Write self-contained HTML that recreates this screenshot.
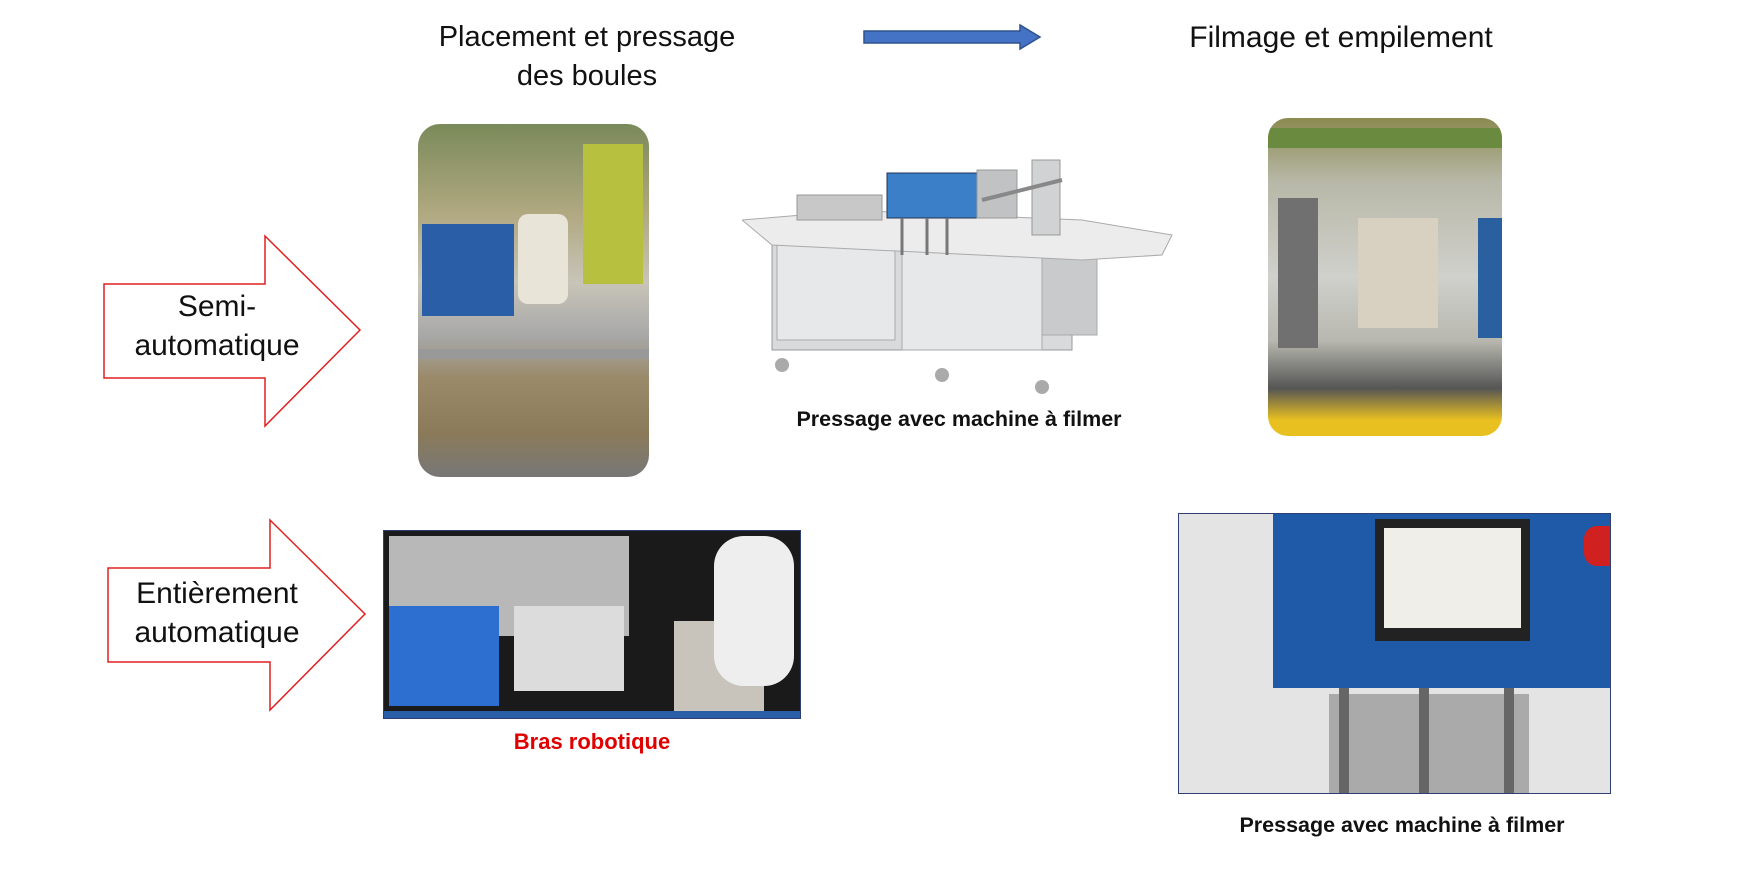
<!DOCTYPE html>
<html><head><meta charset="utf-8"><style>
body{margin:0;width:1754px;height:874px;background:#fff;position:relative;overflow:hidden;font-family:"Liberation Sans",sans-serif}
.t{position:absolute;font-size:29px;color:#111;text-align:center;line-height:39px;white-space:nowrap}
.c{position:absolute;font-weight:bold;font-size:21.5px;text-align:center;white-space:nowrap;transform:translateX(-50%)}
.box{position:absolute}
</style></head><body>
<div class="t" style="left:387px;top:18px;width:400px">Placement et pressage<br>des boules</div>
<div class="t" style="left:1141px;top:18px;width:400px;font-size:30px">Filmage et empilement</div>
<svg class="box" style="left:860px;top:22px" width="185" height="30"><polygon points="4,9 160,9 160,3 180,15 160,27 160,21 4,21" fill="#4472c4" stroke="#2f528f" stroke-width="1.5"/></svg>

<svg class="box" style="left:100px;top:232px" width="270" height="200"><polygon points="4,52 165,52 165,4 260,98 165,194 165,146 4,146" fill="#fff" stroke="#e02020" stroke-width="1.5"/></svg>
<div class="t" style="left:100px;top:287px;width:234px;font-size:30px">Semi-<br>automatique</div>
<svg class="box" style="left:104px;top:516px" width="270" height="200"><polygon points="4,52 166,52 166,4 261,98 166,194 166,146 4,146" fill="#fff" stroke="#e02020" stroke-width="1.5"/></svg>
<div class="t" style="left:100px;top:574px;width:234px;font-size:30px">Entièrement<br>automatique</div>

<!-- photo 1 -->
<div class="box" style="left:418px;top:124px;width:231px;height:353px;border-radius:22px;overflow:hidden;background:linear-gradient(180deg,#7a8a5a 0%,#b0a880 25%,#c8c4b8 45%,#a8a8a8 60%,#9a8a6a 72%,#8a7a5a 88%,#777 100%)">
<div style="position:absolute;left:4px;top:100px;width:92px;height:92px;background:#2a5fa8"></div>
<div style="position:absolute;left:100px;top:90px;width:50px;height:90px;background:#e8e4d8;border-radius:10px"></div>
<div style="position:absolute;left:165px;top:20px;width:60px;height:140px;background:#b8c040"></div>
<div style="position:absolute;left:0;top:225px;width:231px;height:10px;background:#999"></div>
</div>

<!-- machine -->
<svg class="box" style="left:742px;top:140px" width="440" height="255">
<rect x="30" y="80" width="300" height="130" fill="#d8dadc" stroke="#999"/>
<rect x="35" y="100" width="118" height="100" fill="#e6e8ea" stroke="#aaa"/>
<rect x="160" y="100" width="140" height="110" fill="#e6e8ea" stroke="#aaa"/>
<rect x="300" y="95" width="55" height="100" fill="#c8cacc" stroke="#aaa"/>
<polygon points="0,80 60,75 100,70 340,80 430,95 420,115 340,120 30,105" fill="#ececec" stroke="#aaa"/>
<rect x="55" y="55" width="85" height="25" fill="#c8c8c8" stroke="#999"/>
<rect x="145" y="33" width="90" height="45" fill="#3a7fc8" stroke="#235"/>
<rect x="235" y="30" width="40" height="48" fill="#c0c2c4" stroke="#999"/>
<rect x="290" y="20" width="28" height="75" fill="#d0d2d4" stroke="#999"/>
<line x1="160" y1="78" x2="160" y2="115" stroke="#777" stroke-width="3"/><line x1="185" y1="78" x2="185" y2="115" stroke="#777" stroke-width="3"/><line x1="205" y1="78" x2="205" y2="115" stroke="#777" stroke-width="3"/>
<line x1="240" y1="60" x2="320" y2="40" stroke="#888" stroke-width="4"/>
<circle cx="40" cy="225" r="7" fill="#aaa"/><circle cx="200" cy="235" r="7" fill="#aaa"/><circle cx="300" cy="247" r="7" fill="#aaa"/>
</svg>
<div class="c" style="left:959px;top:407px;color:#111">Pressage avec machine à filmer</div>

<!-- photo 3 -->
<div class="box" style="left:1268px;top:118px;width:234px;height:318px;border-radius:20px;overflow:hidden;background:linear-gradient(180deg,#8a8a50 0%,#b8b8a8 20%,#d0d0cc 50%,#b8b8b0 70%,#555 85%,#e8c020 95%)">
<div style="position:absolute;left:10px;top:80px;width:40px;height:150px;background:#707070"></div>
<div style="position:absolute;left:90px;top:100px;width:80px;height:110px;background:#d8d0c0"></div>
<div style="position:absolute;left:210px;top:100px;width:24px;height:120px;background:#2a60a0"></div>
<div style="position:absolute;left:0;top:10px;width:234px;height:20px;background:#6a8a40"></div>
</div>

<!-- robot -->
<div class="box" style="left:383px;top:530px;width:416px;height:187px;border:1.5px solid #2f3f70;background:#1a1a1a;overflow:hidden">
<div style="position:absolute;left:5px;top:5px;width:240px;height:100px;background:#b8b8b8"></div>
<div style="position:absolute;left:5px;top:75px;width:110px;height:100px;background:#2d6fd0"></div>
<div style="position:absolute;left:130px;top:75px;width:110px;height:85px;background:#dcdcdc"></div>
<div style="position:absolute;left:290px;top:90px;width:90px;height:90px;background:#c8c4bc"></div>
<div style="position:absolute;left:330px;top:5px;width:80px;height:150px;background:#eee;border-radius:30px"></div>
<div style="position:absolute;left:0;top:180px;width:416px;height:7px;background:#2a5fa8"></div>
</div>
<div class="c" style="left:592px;top:729px;color:#e00000;font-size:22px">Bras robotique</div>

<!-- bottom right -->
<div class="box" style="left:1178px;top:513px;width:431px;height:279px;border:1.5px solid #2f3f70;background:#e4e4e4;overflow:hidden">
<div style="position:absolute;left:94px;top:0;width:337px;height:174px;background:#1f5aa8"></div>
<div style="position:absolute;left:196px;top:5px;width:155px;height:122px;background:#222"></div>
<div style="position:absolute;left:205px;top:14px;width:137px;height:100px;background:#f0eee8"></div>
<div style="position:absolute;left:405px;top:12px;width:26px;height:40px;background:#d02020;border-radius:13px 0 0 13px"></div>
<div style="position:absolute;left:150px;top:180px;width:200px;height:99px;background:#aaa"></div>
<div style="position:absolute;left:160px;top:174px;width:10px;height:105px;background:#666"></div>
<div style="position:absolute;left:240px;top:174px;width:10px;height:105px;background:#666"></div>
<div style="position:absolute;left:325px;top:174px;width:10px;height:105px;background:#666"></div>
</div>
<div class="c" style="left:1402px;top:813px;color:#111">Pressage avec machine à filmer</div>
</body></html>
